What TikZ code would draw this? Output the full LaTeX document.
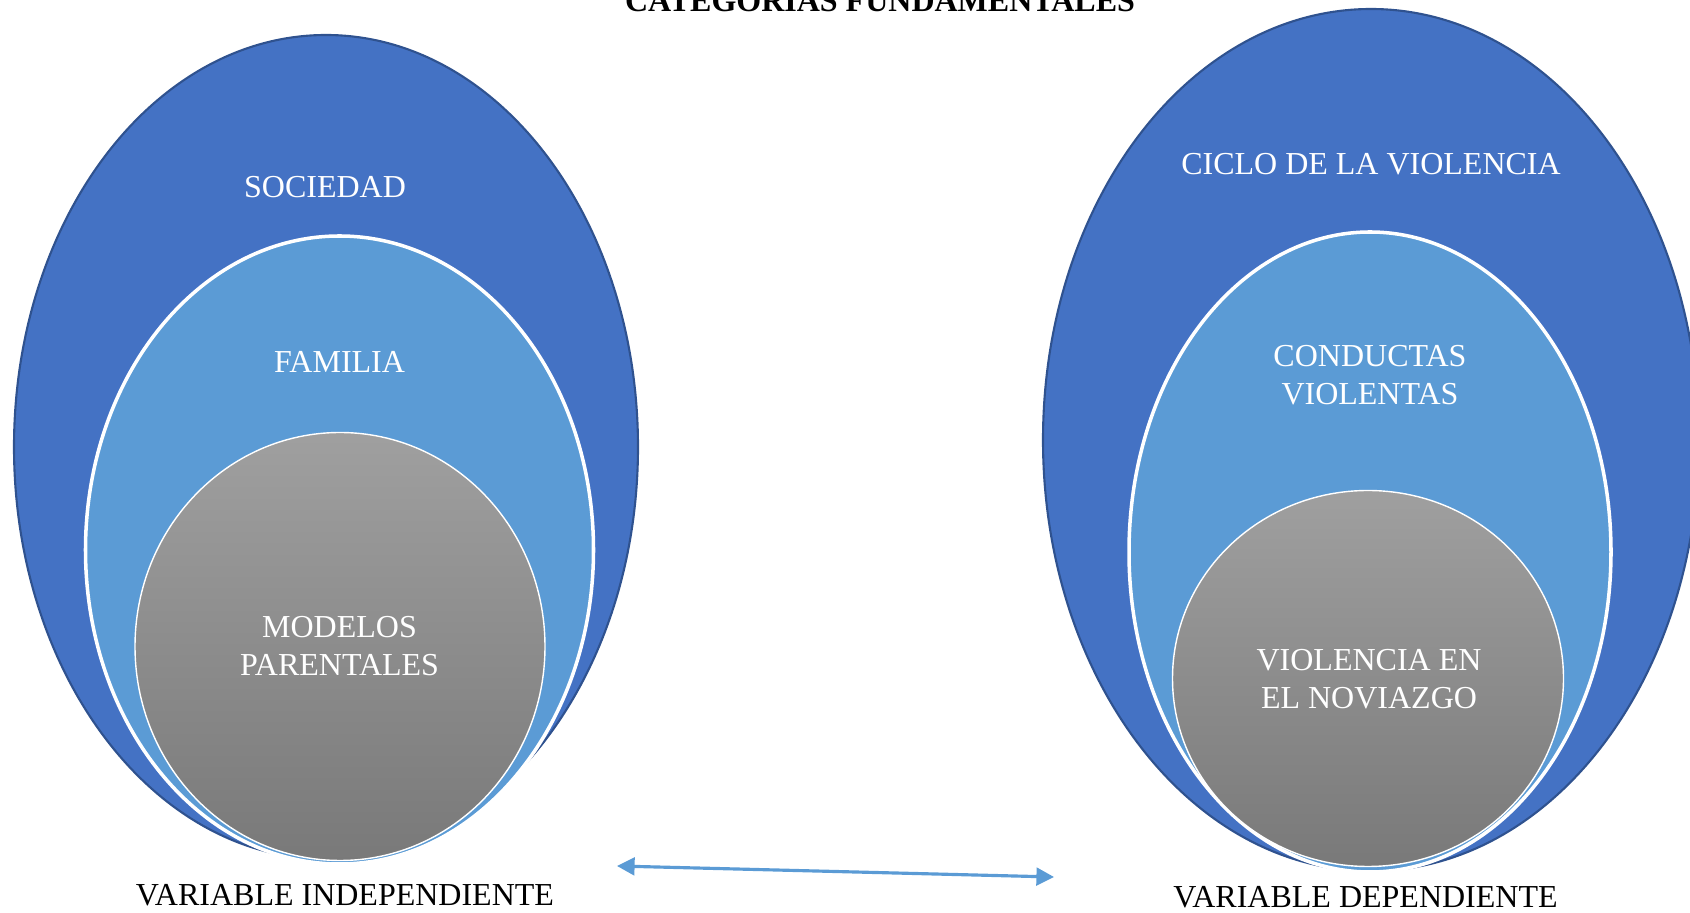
\documentclass[tikz,border=0pt]{standalone}
\usepackage{fontspec}
\setmainfont{Liberation Serif}
\tikzset{>=latex}
\usetikzlibrary{arrows.meta}

\definecolor{azul}{HTML}{4472C4}
\definecolor{azulborde}{HTML}{2F528F}
\definecolor{celeste}{HTML}{5B9BD5}
\tikzset{
  etiqueta/.style={text=white, align=center, font=\fontsize{9.1}{10.7}\selectfont},
  rotulovar/.style={text=black, font=\fontsize{9.1}{10.7}\selectfont},
}

\begin{document}
\begin{tikzpicture}[x=0.01cm, y=-0.01cm]

% Zone de dessin (en pixels de l'image d'origine)
% Drawing area (in pixels of the original picture)
\useasboundingbox (0,0) rectangle (1690,913);
\clip (0,0) rectangle (1690,913);

% Titre / Title
\node[font=\fontsize{9.1}{10.7}\selectfont\bfseries, anchor=base] (titulo) at (880,12) {CATEGORÍAS FUNDAMENTALES};

% Variable independiente (gauche / left)
\filldraw [draw=azulborde, line width=0.6pt, fill=azul] (326,447) ellipse [x radius=312, y radius=412];
\filldraw [draw=white, line width=1pt, fill=celeste] (339.5,550) ellipse [x radius=254, y radius=314];
\draw [draw=white, line width=0.4pt, top color=gray!75, bottom color=gray!95!black] (340,646.5) ellipse [x radius=205, y radius=214];

\node[etiqueta] (sociedad) at (325,187) {SOCIEDAD};
\node[etiqueta] (familia) at (339.5,362) {FAMILIA};
\node[etiqueta] (modelos) at (339.5,646) {MODELOS\\PARENTALES};
\node[rotulovar] (vi) at (345,895) {VARIABLE INDEPENDIENTE};

% Variable dependiente (droite / right)
\filldraw [draw=azulborde, line width=0.6pt, fill=azul] (1371,440) ellipse [x radius=328, y radius=431];
\filldraw [draw=white, line width=1pt, fill=celeste] (1370,552) ellipse [x radius=241, y radius=320];
\draw [draw=white, line width=0.4pt, top color=gray!75, bottom color=gray!95!black] (1368,678.5) ellipse [x radius=195.5, y radius=188];

\node[etiqueta] (ciclo) at (1371,164) {CICLO DE LA VIOLENCIA};
\node[etiqueta] (conductas) at (1370,375) {CONDUCTAS\\VIOLENTAS};
\node[etiqueta] (noviazgo) at (1369,679) {VIOLENCIA EN\\EL NOVIAZGO};
\node[rotulovar] (vd) at (1365.5,897) {VARIABLE DEPENDIENTE};

% Flèche entre les variables / Arrow between the variables
\coordinate (ini) at (617,866);
\coordinate (fin) at (1054,877);
\draw[{Triangle[length=5pt,width=5pt]}-{Triangle[length=5pt,width=5pt]}, celeste, line width=0.9pt] (ini) -- (fin);

\end{tikzpicture}
\end{document}
